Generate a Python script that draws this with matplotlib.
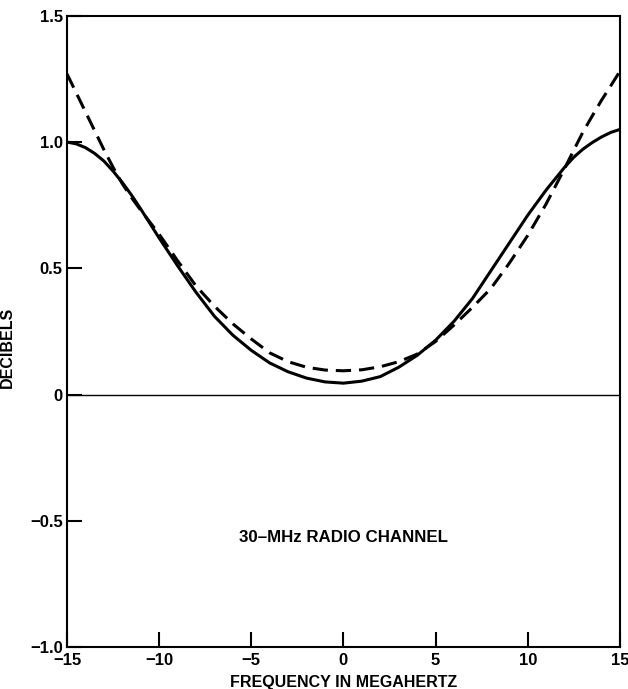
import matplotlib.pyplot as plt

# frequency in MHz (half steps near the band edges)
freq = [-15, -14.5, -14, -13.5, -13, -12.5, -12, -11.5, -11, -10, -9, -8, -7, -6,
        -5, -4, -3, -2, -1, 0, 1, 2, 3, 4, 5, 6, 7, 8, 9, 10,
        11, 11.5, 12, 12.5, 13, 13.5, 14, 14.5, 15]

# solid curve (decibels)
solid_db = [1.0, 0.993, 0.978, 0.955, 0.925, 0.885, 0.84, 0.79, 0.735, 0.62,
            0.51, 0.405, 0.31, 0.235, 0.175, 0.125, 0.09, 0.065, 0.05, 0.045,
            0.053, 0.071, 0.108, 0.155, 0.215, 0.29, 0.38, 0.49, 0.60, 0.71,
            0.81, 0.855, 0.90, 0.94, 0.972, 0.998, 1.02, 1.038, 1.05]

# dashed curve (decibels)
dashed_db = [1.27, 1.195, 1.12, 1.045, 0.97, 0.9, 0.835, 0.78, 0.73, 0.635,
             0.53, 0.43, 0.35, 0.28, 0.22, 0.165, 0.13, 0.108, 0.097, 0.094,
             0.098, 0.11, 0.13, 0.16, 0.21, 0.275, 0.345, 0.42, 0.52, 0.63,
             0.755, 0.825, 0.895, 0.968, 1.04, 1.103, 1.165, 1.222, 1.28]

x_ticks = [-15, -10, -5, 0, 5, 10, 15]
y_ticks = [-1.0, -0.5, 0, 0.5, 1.0, 1.5]
y_ticklabels = ['\u22121.0', '\u22120.5', '0', '0.5', '1.0', '1.5']
x_ticklabels = ['\u221215', '\u221210', '\u22125', '0', '5', '10', '15']

plt.rcParams['font.family'] = ['Liberation Sans', 'DejaVu Sans']

fig = plt.figure(figsize=(6.28, 6.89), dpi=100)
ax = fig.add_axes([0.1067, 0.061, 0.8803, 0.916])

ax.axhline(0, color='black', lw=1.0)
ax.plot(freq, solid_db, color='black', lw=2.2, solid_joinstyle='round')
ax.plot(freq, dashed_db, color='black', lw=2.2, dashes=(5.0, 2.6))

ax.set_xlim(-15, 15)
ax.set_ylim(-1.0, 1.5)
ax.set_xticks(x_ticks)
ax.set_xticklabels(x_ticklabels)
ax.set_yticks(y_ticks)
ax.set_yticklabels(y_ticklabels)

for side in ['left', 'right', 'top', 'bottom']:
    ax.spines[side].set_linewidth(1.5)

ax.tick_params(direction='in', length=10.5, width=1.5, labelsize=12, pad=4)
ax.tick_params(axis='y', pad=3)
for lab in ax.get_xticklabels() + ax.get_yticklabels():
    lab.set_fontweight('bold')

ax.set_xlabel('FREQUENCY IN MEGAHERTZ', fontsize=11.5, fontweight='bold')
ax.set_ylabel('DECIBELS', fontsize=11.5, fontweight='bold')
ax.xaxis.set_label_coords(0.5, -0.045)
ax.yaxis.set_label_coords(-0.095, 0.475)

ax.text(0, -0.568, '30\u2013MHz RADIO CHANNEL', ha='center', va='center',
        fontsize=12.2, fontweight='bold')

plt.savefig('out.png', dpi=100)
